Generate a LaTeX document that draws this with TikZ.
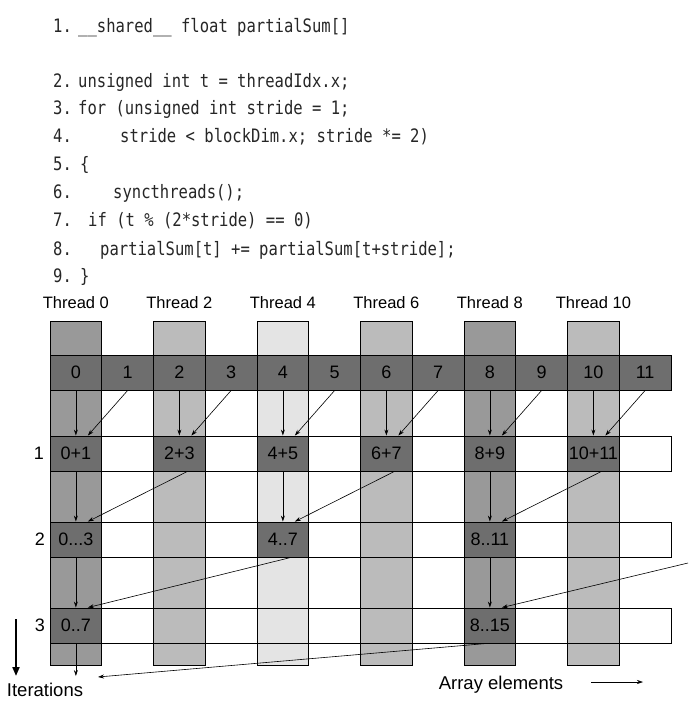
\documentclass[tikz,border=0pt]{standalone}
\usepackage{fontspec}
\setmainfont{Liberation Sans}
\newfontfamily\codefont[FakeStretch=0.84]{DejaVu Sans Mono}
\usetikzlibrary{arrows.meta}
\definecolor{darkcell}{HTML}{6E6E6E}
\definecolor{colA}{HTML}{999999}
\definecolor{colB}{HTML}{BBBBBB}
\definecolor{colC}{HTML}{E4E4E4}
\begin{document}
\begin{tikzpicture}[x=1pt,y=-1pt,
	code/.style={anchor=base west,inner sep=0pt,text=black!85,font=\codefont\fontsize{18.5}{20}\selectfont},
	cell/.style={draw,line width=0.9pt,minimum width=51.75pt,minimum height=35pt,inner sep=0pt,font=\fontsize{18}{20}\selectfont},
	numcell/.style={cell,fill=darkcell},
	sumcell/.style={cell,fill=darkcell},
	thread/.style={font=\fontsize{16.5}{18}\selectfont},
	arr/.style={-{Stealth[length=6pt,width=4pt]},line width=0.6pt}]
		\useasboundingbox (0,0) rectangle (688,708);
		% the code
		\node[code] (l1) at (53,33) {1.};
		\node[code] (c1) at (78,33) {\_\_shared\_\_ float partialSum[]};
		\node[code] (l2) at (53,88) {2.};
		\node[code] (c2) at (78,88) {unsigned int t = threadIdx.x;};
		\node[code] (l3) at (53,115) {3.};
		\node[code] (c3) at (78,115) {for (unsigned int stride = 1;};
		\node[code] (l4) at (53,143) {4.};
		\node[code] (c4) at (120,143) {stride < blockDim.x; stride *= 2)};
		\node[code] (l5) at (53,171) {5.};
		\node[code] (c5) at (80,171) {\{};
		\node[code] (l6) at (53,199) {6.};
		\node[code] (c6) at (113,199) {syncthreads();};
		\node[code] (l7) at (53,227) {7.};
		\node[code] (c7) at (88,227) {if (t \% (2*stride) == 0)};
		\node[code] (l8) at (53,255) {8.};
		\node[code] (c8) at (100,255) {partialSum[t] += partialSum[t+stride];};
		\node[code] (l9) at (53,282) {9.};
		\node[code] (c9) at (80,282) {\}};
		% thread columns
		\draw[line width=0.9pt,fill=colA] (50,321) rectangle (101.75,665);
		\draw[line width=0.9pt,fill=colB] (153.5,321) rectangle (205.25,665);
		\draw[line width=0.9pt,fill=colC] (257,321) rectangle (308.75,665);
		\draw[line width=0.9pt,fill=colB] (360.5,321) rectangle (412.25,665);
		\draw[line width=0.9pt,fill=colA] (464,321) rectangle (515.75,665);
		\draw[line width=0.9pt,fill=colB] (567.5,321) rectangle (619.25,665);
		\node[thread] (th0) at (75.875,303) {Thread 0};
		\node[thread] (th2) at (179.375,303) {Thread 2};
		\node[thread] (th4) at (282.875,303) {Thread 4};
		\node[thread] (th6) at (386.375,303) {Thread 6};
		\node[thread] (th8) at (489.875,303) {Thread 8};
		\node[thread] (th10) at (593.375,303) {Thread 10};
		% array elements
		\foreach \i in {0,...,11}
			\node[numcell] (n\i) at ({75.875+51.75*\i},372.5) {\i};
		% iteration rows
		\draw[line width=0.9pt] (50,436) rectangle (671,471);
		\draw[line width=0.9pt] (50,522) rectangle (671,557);
		\draw[line width=0.9pt] (50,608) rectangle (671,643);
		\node[font=\fontsize{18}{20}\selectfont] (it1) at (39,453.5) {1};
		\node[font=\fontsize{18}{20}\selectfont] (it2) at (40,539.5) {2};
		\node[font=\fontsize{18}{20}\selectfont] (it3) at (40,625.5) {3};
		\node[sumcell] (s1c0) at (75.875,453.5) {0+1};
		\node[sumcell] (s1c2) at (179.375,453.5) {2+3};
		\node[sumcell] (s1c4) at (282.875,453.5) {4+5};
		\node[sumcell] (s1c6) at (386.375,453.5) {6+7};
		\node[sumcell] (s1c8) at (489.875,453.5) {8+9};
		\node[sumcell] (s1c10) at (593.375,453.5) {10+11};
		\node[sumcell] (s2c0) at (75.875,539.5) {0...3};
		\node[sumcell] (s2c4) at (282.875,539.5) {4..7};
		\node[sumcell] (s2c8) at (489.875,539.5) {8..11};
		\node[sumcell] (s3c0) at (75.875,625.5) {0..7};
		\node[sumcell] (s3c8) at (489.875,625.5) {8..15};
		% first step
		\foreach \i/\j in {0/1,2/3,4/5,6/7,8/9,10/11}{
			\draw[arr] (n\i.south) -- (s1c\i.north);
			\draw[arr] (n\j.south) -- ([xshift=12pt]s1c\i.north);
		}
		% second step
		\draw[arr] (s1c0.south) -- (s2c0.north);
		\draw[arr] ([xshift=8pt]s1c2.south) -- ([xshift=12pt]s2c0.north);
		\draw[arr] (s1c4.south) -- (s2c4.north);
		\draw[arr] ([xshift=8pt]s1c6.south) -- ([xshift=12pt]s2c4.north);
		\draw[arr] (s1c8.south) -- (s2c8.north);
		\draw[arr] ([xshift=8pt]s1c10.south) -- ([xshift=12pt]s2c8.north);
		% third step
		\coordinate (far) at (688,563);
		\draw[arr] (s2c0.south) -- (s3c0.north);
		\draw[arr] ([xshift=8pt]s2c4.south) -- ([xshift=12pt]s3c0.north);
		\draw[arr] (s2c8.south) -- (s3c8.north);
		\draw[arr] (far) -- ([xshift=12pt]s3c8.north);
		% last step
		\coordinate (down) at (75.875,676);
		\coordinate (back) at (98,677);
		\draw[arr] (s3c0.south) -- (down);
		\draw[arr] ([xshift=-3pt]s3c8.south) -- (back);
		% axes
		\node[font=\fontsize{18.5}{20}\selectfont] (iter) at (45,690) {Iterations};
		\coordinate (ia) at (16,619);
		\coordinate (ib) at (16,676);
		\draw[-{Triangle[length=9pt,width=7pt]},line width=2pt] (ia) -- (ib);
		\node[font=\fontsize{18.5}{20}\selectfont] (arrel) at (501,685) {Array elements};
		\coordinate (aa) at (591,682);
		\coordinate (ab) at (643,682);
		\draw[arr] (aa) -- (ab);
	\end{tikzpicture}
\end{document}
